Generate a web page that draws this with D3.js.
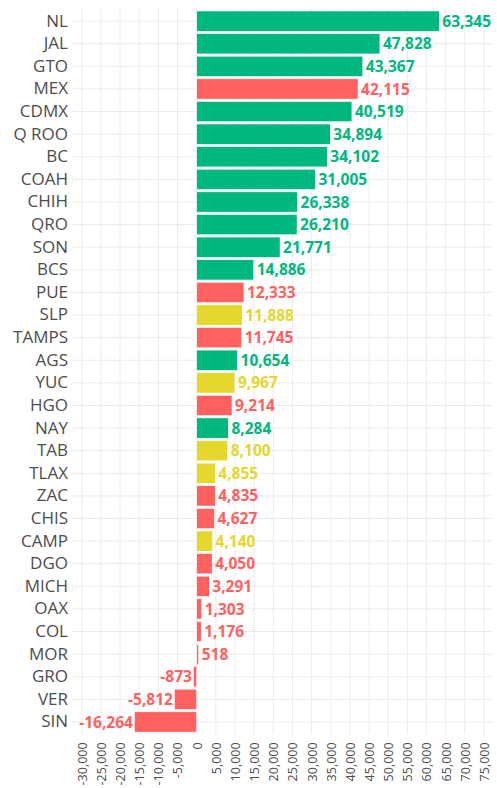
<!DOCTYPE html>
<html>
<head>
<meta charset="utf-8">
<script src="https://cdn.jsdelivr.net/npm/d3@7"></script>
<style>
  body { margin: 0; background: #fff; }
  text { font-family: "Open Sans", "Noto Sans", sans-serif; }
</style>
</head>
<body>
<div id="chart"></div>
<script>
// states, sorted as in the chart (top to bottom)
var states = ["NL","JAL","GTO","MEX","CDMX","Q ROO","BC","COAH","CHIH","QRO","SON","BCS",
  "PUE","SLP","TAMPS","AGS","YUC","HGO","NAY","TAB","TLAX","ZAC","CHIS","CAMP","DGO",
  "MICH","OAX","COL","MOR","GRO","VER","SIN"];
var values = [63345,47828,43367,42115,40519,34894,34102,31005,26338,26210,21771,14886,
  12333,11888,11745,10654,9967,9214,8284,8100,4855,4835,4627,4140,4050,
  3291,1303,1176,518,-873,-5812,-16264];
// g = green, r = red, y = yellow
var groups = ["g","g","g","r","g","g","g","g","g","g","g","g",
  "r","y","r","g","y","r","g","y","y","r","r","y","r",
  "r","r","r","r","r","r","r"];
var xTicks = d3.range(-30000, 75001, 5000);

var colors = {g: "#00b77f", r: "#ff6161", y: "#e5d72e"};

var W = 497, H = 788;
var panel = {left: 72, right: 492, top: 8.7, bottom: 734.4};

// plain hyphen for negatives
var fmt = d3.formatLocale({decimal: ".", thousands: ",", grouping: [3], currency: ["$", ""], minus: "-"}).format(",");

var svg = d3.select("#chart").append("svg")
    .attr("width", W)
    .attr("height", H);

var x = d3.scaleLinear().domain([-30000, 75000]).range([81.8, 484]);
var y = d3.scaleBand().domain(states).range([panel.top, panel.bottom]).padding(0.1);

var data = states.map(function(s, i) { return {name: s, value: values[i], group: groups[i]}; });

// grid
svg.append("g").selectAll("line.v")
  .data(xTicks)
  .enter().append("line")
    .attr("x1", function(d) { return x(d); })
    .attr("x2", function(d) { return x(d); })
    .attr("y1", panel.top)
    .attr("y2", panel.bottom)
    .attr("stroke", "#ebebeb")
    .attr("stroke-width", 1);

svg.append("g").selectAll("line.h")
  .data(states)
  .enter().append("line")
    .attr("x1", panel.left)
    .attr("x2", panel.right)
    .attr("y1", function(d) { return y(d) + y.bandwidth() / 2; })
    .attr("y2", function(d) { return y(d) + y.bandwidth() / 2; })
    .attr("stroke", "#ebebeb")
    .attr("stroke-width", 1);

// bars
svg.append("g").selectAll("rect")
  .data(data)
  .enter().append("rect")
    .attr("x", function(d) { return x(Math.min(0, d.value)); })
    .attr("y", function(d) { return y(d.name); })
    .attr("width", function(d) { return Math.abs(x(d.value) - x(0)); })
    .attr("height", y.bandwidth())
    .attr("fill", function(d) { return colors[d.group]; })
    .attr("stroke", "#fff")
    .attr("stroke-width", 0.6);

// value labels
svg.append("g").selectAll("text")
  .data(data)
  .enter().append("text")
    .attr("x", function(d) { return d.value >= 0 ? x(d.value) + 3 : x(d.value) - 1.5; })
    .attr("y", function(d) { return y(d.name) + y.bandwidth() / 2; })
    .attr("dy", "0.36em")
    .attr("text-anchor", function(d) { return d.value >= 0 ? "start" : "end"; })
    .attr("font-size", 15.5)
    .attr("font-weight", "bold")
    .attr("fill", function(d) { return colors[d.group]; })
    .text(function(d) { return fmt(d.value); });

// category axis
var yAxis = svg.append("g")
    .attr("transform", "translate(" + panel.left + ",0)")
    .call(d3.axisLeft(y).tickSize(0).tickPadding(4));
yAxis.select(".domain").remove();
yAxis.selectAll("text")
    .attr("font-size", 17)
    .attr("fill", "#4d4d4d")
    .style("font-family", "'Open Sans', sans-serif");

// value axis
var xAxis = svg.append("g")
    .attr("transform", "translate(0," + panel.bottom + ")")
    .call(d3.axisBottom(x).tickValues(xTicks).tickSize(0).tickFormat(fmt));
xAxis.select(".domain").remove();
xAxis.selectAll("text")
    .attr("transform", "rotate(-90)")
    .attr("x", -8)
    .attr("y", 0)
    .attr("dy", "0.35em")
    .attr("text-anchor", "end")
    .attr("font-size", 12.5)
    .attr("fill", "#4d4d4d")
    .style("font-family", "'Open Sans', sans-serif");
</script>
</body>
</html>
